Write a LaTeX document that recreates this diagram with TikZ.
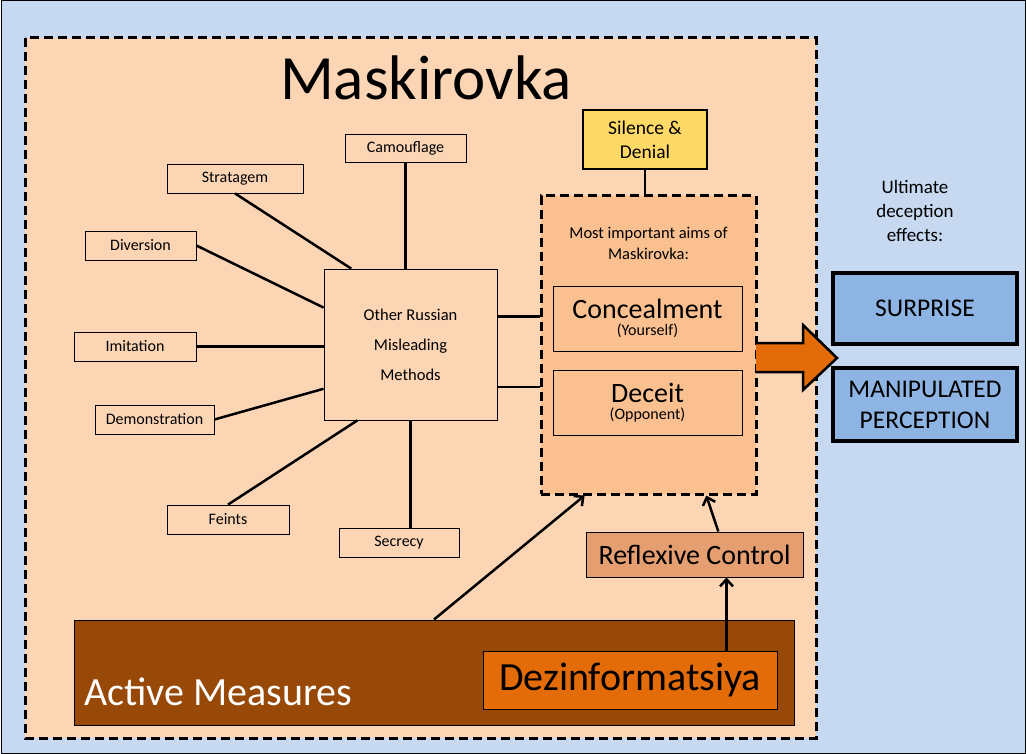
\documentclass[tikz,border=0pt]{standalone}
\usepackage{fontspec}
\setmainfont{Carlito}
\usetikzlibrary{arrows.meta}
\definecolor{skyback}{HTML}{C6D9F1}
\definecolor{peach}{HTML}{FCD5B5}
\definecolor{aimsfill}{HTML}{FAC090}
\definecolor{silencefill}{HTML}{FFD966}
\definecolor{reflexfill}{HTML}{E59E70}
\definecolor{activefill}{HTML}{984807}
\definecolor{dezinfill}{HTML}{E36C09}
\definecolor{effectfill}{HTML}{8EB4E3}
\newcommand{\fsz}[2]{\fontsize{#1}{#2}\selectfont}
\begin{document}
\begin{tikzpicture}[x=1pt, y=-1pt, line width=2.5pt,
  method node/.style={rectangle,draw,line width=0.8pt,fill=peach,inner sep=0pt,font=\fsz{16}{19}},
  aim node/.style={rectangle,draw,line width=0.8pt,fill=aimsfill,inner sep=0pt,align=center},
  dash box/.style={draw,line width=3pt,dash pattern=on 9pt off 5pt},
  effect node/.style={rectangle,draw,line width=4pt,fill=effectfill,inner sep=0pt,align=center,font=\fsz{25.5}{31}},
  >={Straight Barb[length=7pt,width=13pt]}]
\useasboundingbox (0,0) rectangle (1026,754);
\draw[line width=1pt,fill=skyback] (1,1) rectangle (1025,753);
\draw[dash box,fill=peach] (25,38) rectangle (816,738);
\node (title) at (426,78) {\fsz{63}{70}Maskirovka};
% other methods
\node[method node,minimum width=173pt,minimum height=151pt,align=center,font=\fsz{16.5}{30}] (other) at (410.5,344.5) {Other Russian\\Misleading\\Methods};
\node[method node,minimum width=121pt,minimum height=28pt] (camouflage) at (405.5,148) {Camouflage};
\node[method node,minimum width=136pt,minimum height=29pt] (stratagem) at (235,178.5) {Stratagem};
\node[method node,minimum width=111pt,minimum height=29pt] (diversion) at (140.5,245.5) {Diversion};
\node[method node,minimum width=122pt,minimum height=29pt] (imitation) at (135,346.5) {Imitation};
\node[method node,minimum width=119pt,minimum height=29pt] (demonstration) at (154.5,419.5) {Demonstration};
\node[method node,minimum width=122pt,minimum height=29pt] (feints) at (228,519.5) {Feints};
\node[method node,minimum width=120pt,minimum height=29pt] (secrecy) at (399,542.5) {Secrecy};
\draw (camouflage.south) -- (camouflage.south |- other.north);
\draw (stratagem.south) -- (other.128);
\draw (diversion.east) -- (other.157);
\draw (imitation.east) -- (imitation.east -| other.west);
\draw (demonstration.east) -- (other.207);
\draw (feints.north) -- (other.235);
\draw (other.south) -- (other.south |- secrecy.north);
% aims
\node[rectangle,dash box,fill=aimsfill,minimum width=215pt,minimum height=298pt] (aims) at (648.5,345) {};
\node[align=center,font=\fsz{16.5}{21}] (aimstext) at (648.5,243) {Most important aims of\\Maskirovka:};
\node[aim node,minimum width=189pt,minimum height=65pt] (concealment) at (647.5,318.5) {\fsz{28}{26}Concealment\\[5pt]\fsz{16}{18}(Yourself)};
\node[aim node,minimum width=189pt,minimum height=65pt] (deceit) at (647.5,402.5) {\fsz{28}{26}Deceit\\[5pt]\fsz{16}{18}(Opponent)};
\node[rectangle,draw,line width=2pt,fill=silencefill,minimum width=124pt,minimum height=59pt,align=center,font=\fsz{19.5}{24}] (silence) at (645,139.5) {Silence \&\\Denial};
\draw (silence.south) -- (silence.south |- aims.north);
\draw (other.18) -- (other.18 -| aims.west);
\draw (other.-26) -- (other.-26 -| aims.west);
% active measures
\node[rectangle,draw,line width=1pt,fill=activefill,minimum width=720pt,minimum height=105pt] (active) at (434,672.5) {};
\node[anchor=west,text=white,font=\fsz{40}{44}] (activetext) at (80,692) {Active Measures};
\node[rectangle,draw,line width=1pt,fill=dezinfill,minimum width=294pt,minimum height=58pt,font=\fsz{40}{44}] (dezin) at (630,680) {Dezinformatsiya};
\node[rectangle,draw,line width=1pt,fill=reflexfill,minimum width=217pt,minimum height=45pt,font=\fsz{28}{32}] (reflexive) at (694.5,554.5) {Reflexive Control};
\draw[->] (dezin.17) -- (dezin.17 |- reflexive.south);
\draw[->] (reflexive.44) -- (aims.-69);
\draw[->] (active.north) -- (aims.247);
% effects
\node[align=center,font=\fsz{19}{24}] (ultimate) at (915,211) {Ultimate\\deception\\effects:};
\node[effect node,minimum width=184pt,minimum height=71pt] (surprise) at (925,308.5) {SURPRISE};
\node[effect node,minimum width=184pt,minimum height=73pt] (perception) at (925,404.5) {MANIPULATED\\PERCEPTION};
\fill[dezinfill] (756,343) -- (803,343) -- (803,325) -- (837,358) -- (803,390) -- (803,372) -- (756,372) -- cycle;
\draw[line join=miter] (756,343) -- (803,343) -- (803,325) -- (837,358) -- (803,390) -- (803,372) -- (756,372);
\end{tikzpicture}
\end{document}
